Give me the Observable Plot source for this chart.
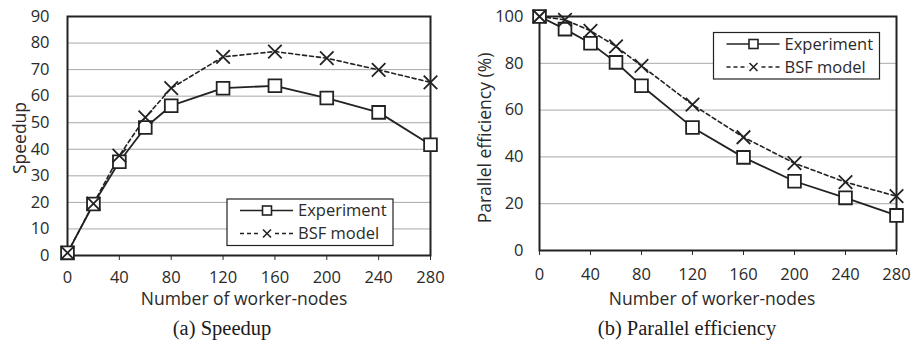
<!DOCTYPE html>
<html><head><meta charset="utf-8">
<script src="https://cdn.jsdelivr.net/npm/d3@7"></script>
<script src="https://cdn.jsdelivr.net/npm/@observablehq/plot@0.6"></script>
<style>
body{margin:0;background:#fff}
#wrap{position:relative;width:911px;height:343px;overflow:hidden}
.chart{position:absolute;top:0}
.cap{position:absolute;font-family:"Liberation Serif",serif;font-size:20.5px;color:#1a1a1a;transform:translate(-50%,-50%);white-space:nowrap;line-height:1}
</style>
</head><body>
<div id="wrap"></div>
<script>
// ---- data ----
const nodes = [0, 20, 40, 60, 80, 120, 160, 200, 240, 280];
const speedupExperiment = [1, 19.4, 35.3, 48.2, 56.4, 63.0, 63.9, 59.3, 53.9, 41.7];
const speedupBSF = [1, 19.5, 37.6, 52.0, 63.0, 74.8, 76.8, 74.3, 69.9, 65.2];
const efficiencyExperiment = [100, 94.6, 88.6, 80.4, 70.4, 52.6, 39.8, 29.6, 22.5, 15.0];
const efficiencyBSF = [100, 98.6, 93.9, 87.2, 78.9, 62.3, 48.4, 37.3, 29.2, 23.2];
const seriesNames = ["Experiment", "BSF model"];
const xTicks = [0, 40, 80, 120, 160, 200, 240, 280];
const speedupTicks = [0, 10, 20, 30, 40, 50, 60, 70, 80, 90];
const efficiencyTicks = [0, 20, 40, 60, 80, 100];
const xTitle = "Number of worker-nodes";
const captions = ["(a) Speedup", "(b) Parallel efficiency"];

const INK = "#222";
const TXT = "#2a2a2a";
const FONT = "Open Sans";

function makeChart(cfg) {
  const expData = nodes.map((n, i) => ({x: n, y: cfg.exp[i]}));
  const bsfData = nodes.map((n, i) => ({x: n, y: cfg.bsf[i]}));
  const plot = Plot.plot({
    width: cfg.width, height: 310,
    marginLeft: cfg.ml, marginRight: cfg.mr, marginTop: 16, marginBottom: cfg.mb,
    style: {fontFamily: FONT, fontSize: "16.5px", color: TXT, background: "white"},
    x: {domain: [0, 280]},
    y: {domain: cfg.domain},
    marks: [
      Plot.gridY(cfg.ticks.filter(t => t > cfg.domain[0] && t < cfg.domain[1]), {stroke: "#a8a8a8", strokeOpacity: 1, strokeWidth: 1}),
      Plot.axisY(cfg.ticks, {tickSize: 0, tickPadding: cfg.ypad, label: null, fontSize: 16.5}),
      Plot.axisX(xTicks, {tickSize: 5, tickPadding: cfg.xpad, label: null, fontSize: 16.5}),
      Plot.line(expData, {x: "x", y: "y", stroke: INK, strokeWidth: 1.8}),
      Plot.line(bsfData, {x: "x", y: "y", stroke: INK, strokeWidth: 1.6, strokeDasharray: "4,3"}),
      Plot.frame({stroke: INK, strokeWidth: 2}),
      Plot.dot(expData, {x: "x", y: "y", symbol: "square", r: 7.2, fill: "white", stroke: INK, strokeWidth: 1.8}),
      Plot.dot(bsfData, {x: "x", y: "y", symbol: "times", r: 6.2, stroke: INK, strokeWidth: 1.8})
    ]
  });
  const svg = d3.select(plot);
  // axis titles
  svg.append("text").attr("x", cfg.xTitleX).attr("y", 299).attr("dy", "0.35em")
    .attr("text-anchor", "middle").attr("font-size", 17.5).attr("fill", TXT).text(xTitle);
  svg.append("text").attr("transform", `translate(${cfg.yTitleX},138) rotate(-90)`).attr("dy", "0.35em")
    .attr("text-anchor", "middle").attr("font-size", 17.5).attr("fill", TXT).text(cfg.yTitle);
  // legend
  const L = cfg.legend;
  const g = svg.append("g").attr("transform", `translate(${L.x},${L.y})`);
  g.append("rect").attr("width", 166).attr("height", 46.5).attr("fill", "white").attr("stroke", INK).attr("stroke-width", 1.2);
  const rows = [11.5, 34.5];
  // Experiment
  g.append("line").attr("x1", 13).attr("x2", 66).attr("y1", rows[0]).attr("y2", rows[0]).attr("stroke", INK).attr("stroke-width", 1.6);
  g.append("rect").attr("x", 40 - 4.5).attr("y", rows[0] - 4.5).attr("width", 9).attr("height", 9).attr("fill", "white").attr("stroke", INK).attr("stroke-width", 1.6);
  // BSF
  g.append("line").attr("x1", 13).attr("x2", 66).attr("y1", rows[1]).attr("y2", rows[1]).attr("stroke", INK).attr("stroke-width", 1.4).attr("stroke-dasharray", "4,3");
  g.append("rect").attr("x", 34).attr("y", rows[1] - 5).attr("width", 12).attr("height", 10).attr("fill", "white");
  g.append("path").attr("d", `M${36},${rows[1]-4}L${44},${rows[1]+4}M${44},${rows[1]-4}L${36},${rows[1]+4}`).attr("stroke", INK).attr("stroke-width", 1.6);
  seriesNames.forEach((s, i) => {
    g.append("text").attr("x", 71).attr("y", rows[i]).attr("dy", "0.35em").attr("text-anchor", "start")
      .attr("font-size", 16.5).attr("fill", TXT).text(s);
  });
  return plot;
}

const wrap = document.getElementById("wrap");
const left = makeChart({
  width: 460, ml: 67, mr: 30, mb: 55, domain: [0, 90], ticks: speedupTicks,
  exp: speedupExperiment, bsf: speedupBSF, ypad: 18, xpad: 11,
  xTitleX: 244, yTitleX: 20, yTitle: "Speedup",
  legend: {x: 227, y: 199}
});
left.classList.add("chart"); left.style.left = "0px";
wrap.appendChild(left);

const right = makeChart({
  width: 451, ml: 79, mr: 15, mb: 60, domain: [0, 100], ticks: efficiencyTicks,
  exp: efficiencyExperiment, bsf: efficiencyBSF, ypad: 16, xpad: 13,
  xTitleX: 252, yTitleX: 25, yTitle: "Parallel efficiency (%)",
  legend: {x: 253.5, y: 32.5}
});
right.classList.add("chart"); right.style.left = "460px";
wrap.appendChild(right);

[[222, captions[0]], [687, captions[1]]].forEach(([x, t]) => {
  const d = document.createElement("div");
  d.className = "cap"; d.style.left = x + "px"; d.style.top = "328px"; d.textContent = t;
  wrap.appendChild(d);
});
</script>
</body></html>
